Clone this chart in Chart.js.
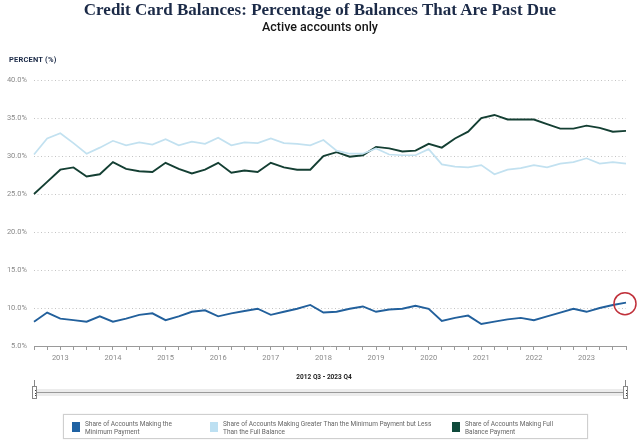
<!DOCTYPE html>
<html><head><meta charset="utf-8">
<script src="https://cdn.jsdelivr.net/npm/chart.js@4.4.0/dist/chart.umd.min.js"></script>
<style>
html,body{margin:0;padding:0;background:#fff;}
#wrap{position:relative;width:640px;height:445px;overflow:hidden;font-family:Roboto,Inter,sans-serif;}
#c{position:absolute;left:0;top:0;}
.title{position:absolute;left:0;top:0;width:640px;text-align:center;font-family:"Liberation Serif",serif;font-weight:bold;font-size:17px;line-height:20px;color:#1b2a47;white-space:nowrap;}
.sub{position:absolute;left:0;top:19px;width:640px;text-align:center;font-family:Roboto,sans-serif;font-weight:500;font-size:12.5px;line-height:16px;color:#151515;}
.ylab{position:absolute;left:9px;top:55px;font-family:Roboto,sans-serif;font-weight:bold;font-size:7.5px;color:#1b2a47;letter-spacing:0.2px;}
.range{position:absolute;left:224px;width:200px;top:373px;text-align:center;font-family:Roboto,sans-serif;font-weight:bold;font-size:6.5px;color:#222;}
.track{position:absolute;left:34px;width:592px;top:389px;height:7px;background:#ececec;}
.trackline{position:absolute;left:34px;width:592px;top:392px;height:1px;background:#9a9a9a;}
.handle{position:absolute;top:386px;width:5px;height:13px;background:#fff;border:1px solid #888;box-sizing:border-box;}
.handle i{position:absolute;left:1.5px;width:1px;height:1px;background:#444;}
.stem{position:absolute;top:380px;width:1px;height:6px;background:#888;}
.legend{position:absolute;left:63px;top:414px;width:525px;height:25px;border:1px solid #cfcfcf;box-sizing:border-box;box-shadow:0 0 1px #ddd;}
.item{position:absolute;top:6px;}
.sw{position:absolute;left:0;top:1px;width:8px;height:10px;}
.lt{position:absolute;left:13px;top:-1px;font-family:Roboto,sans-serif;font-size:6.5px;line-height:8px;color:#666;white-space:nowrap;}
</style>
</head><body>
<div id="wrap">
<canvas id="c" width="640" height="445"></canvas>
<div class="title">Credit Card Balances: Percentage of Balances That Are Past Due</div>
<div class="sub">Active accounts only</div>
<div class="ylab">PERCENT (%)</div>
<div class="range">2012 Q3 - 2023 Q4</div>
<div class="track"></div>
<div class="trackline"></div>
<div class="stem" style="left:34px"></div>
<div class="stem" style="left:625px"></div>
<div class="handle" style="left:32px"><i style="top:3px"></i><i style="top:5.5px"></i><i style="top:8px"></i></div>
<div class="handle" style="left:623px"><i style="top:3px"></i><i style="top:5.5px"></i><i style="top:8px"></i></div>
<div class="legend" id="legend"></div>
</div>
<script>
const quarterLabels = [
 '2012 Q3','2012 Q4',
 '2013 Q1','2013 Q2','2013 Q3','2013 Q4',
 '2014 Q1','2014 Q2','2014 Q3','2014 Q4',
 '2015 Q1','2015 Q2','2015 Q3','2015 Q4',
 '2016 Q1','2016 Q2','2016 Q3','2016 Q4',
 '2017 Q1','2017 Q2','2017 Q3','2017 Q4',
 '2018 Q1','2018 Q2','2018 Q3','2018 Q4',
 '2019 Q1','2019 Q2','2019 Q3','2019 Q4',
 '2020 Q1','2020 Q2','2020 Q3','2020 Q4',
 '2021 Q1','2021 Q2','2021 Q3','2021 Q4',
 '2022 Q1','2022 Q2','2022 Q3','2022 Q4',
 '2023 Q1','2023 Q2','2023 Q3','2023 Q4'
];
const minimumPayment = [
 8.2, 9.4,
 8.6, 8.4, 8.2, 8.9,
 8.2, 8.6, 9.1, 9.3,
 8.4, 8.9, 9.5, 9.7,
 8.9, 9.3, 9.6, 9.9,
 9.1, 9.5, 9.9, 10.4,
 9.4, 9.5, 9.9, 10.2,
 9.5, 9.8, 9.9, 10.3,
 9.9, 8.3, 8.7, 9.0,
 7.9, 8.2, 8.5, 8.7,
 8.4, 8.9, 9.4, 9.9,
 9.5, 10.0, 10.4, 10.7
];
const betweenPayment = [
 30.2, 32.3,
 33.0, 31.7, 30.3, 31.1,
 32.0, 31.4, 31.8, 31.5,
 32.2, 31.4, 31.9, 31.6,
 32.4, 31.4, 31.8, 31.7,
 32.3, 31.7, 31.6, 31.4,
 32.1, 30.7, 30.3, 30.3,
 31.0, 30.2, 30.1, 30.1,
 30.9, 28.9, 28.6, 28.5,
 28.8, 27.6, 28.2, 28.4,
 28.8, 28.5, 29.0, 29.2,
 29.7, 29.0, 29.2, 29.0
];
const fullPayment = [
 25.0, 26.6,
 28.2, 28.5, 27.3, 27.6,
 29.2, 28.3, 28.0, 27.9,
 29.1, 28.3, 27.7, 28.2,
 29.1, 27.8, 28.1, 27.9,
 29.1, 28.5, 28.2, 28.2,
 30.0, 30.5, 29.9, 30.1,
 31.2, 31.0, 30.6, 30.7,
 31.6, 31.1, 32.3, 33.2,
 35.0, 35.4, 34.8, 34.8,
 34.8, 34.2, 33.6, 33.6,
 34.0, 33.7, 33.2, 33.3
];
const seriesNames = [
 ['Share of Accounts Making the', 'Minimum Payment'],
 ['Share of Accounts Making Greater Than the Minimum Payment but Less', 'Than the Full Balance'],
 ['Share of Accounts Making Full', 'Balance Payment']
];
const seriesColors = ['#22609c', '#c2e1f0', '#143f33'];
const legendSwatchColors = ['#1f62a3', '#bde0f2', '#0f4a3b'];
const legendX = [8, 146, 388];

const yMin = 5, yMax = 40, yStep = 5;

const highlightPlugin = {
  id: 'highlight',
  afterDatasetsDraw(chart) {
    const meta = chart.getDatasetMeta(0);
    const pt = meta.data[meta.data.length - 1];
    const ctx = chart.ctx;
    ctx.save();
    ctx.beginPath();
    ctx.arc(pt.x - 1, pt.y + 1, 11, 0, Math.PI * 2);
    ctx.strokeStyle = '#c0303a';
    ctx.lineWidth = 1.5;
    ctx.stroke();
    ctx.restore();
  }
};

new Chart(document.getElementById('c'), {
  type: 'line',
  data: {
    labels: quarterLabels,
    datasets: [
      {label: seriesNames[0].join(' '), data: minimumPayment, borderColor: seriesColors[0], borderWidth: 1.9},
      {label: seriesNames[1].join(' '), data: betweenPayment, borderColor: seriesColors[1], borderWidth: 1.7},
      {label: seriesNames[2].join(' '), data: fullPayment, borderColor: seriesColors[2], borderWidth: 1.9}
    ]
  },
  options: {
    responsive: false,
    animation: false,
    events: [],
    elements: {point: {radius: 0}, line: {tension: 0}},
    layout: {padding: {top: 80, right: 14, bottom: 79, left: 0}},
    plugins: {legend: {display: false}, tooltip: {enabled: false}, title: {display: false}},
    scales: {
      x: {
        offset: false,
        grid: {display: true, drawOnChartArea: false, drawTicks: true, tickLength: 4, color: '#9a9a9a', lineWidth: 1},
        border: {display: true, color: '#9a9a9a', width: 1},
        ticks: {
          autoSkip: false, maxRotation: 0, minRotation: 0, padding: 4,
          color: '#8a8a8a', font: {family: 'Roboto', size: 7.5},
          callback: function(v, i) { const l = quarterLabels[i]; return l.endsWith('Q1') ? l.slice(0, 4) : ''; }
        },
        afterFit(s) { s.height = 20; }
      },
      y: {
        min: yMin, max: yMax,
        grid: {color: '#c4c4c4', lineWidth: 1, drawTicks: false},
        border: {display: false, dash: [1, 2.5]},
        ticks: {
          stepSize: yStep, padding: 7, color: '#8a8a8a', font: {family: 'Roboto', size: 7.5},
          callback: v => v.toFixed(1) + '%'
        },
        afterFit(s) { s.width = 34; }
      }
    }
  },
  plugins: [highlightPlugin]
});

const leg = document.getElementById('legend');
seriesNames.forEach((lines, i) => {
  const it = document.createElement('div');
  it.className = 'item';
  it.style.left = legendX[i] + 'px';
  const sw = document.createElement('div');
  sw.className = 'sw';
  sw.style.background = legendSwatchColors[i];
  const t = document.createElement('div');
  t.className = 'lt';
  t.innerHTML = lines.join('<br>');
  it.appendChild(sw); it.appendChild(t);
  leg.appendChild(it);
});
</script>
</body></html>
